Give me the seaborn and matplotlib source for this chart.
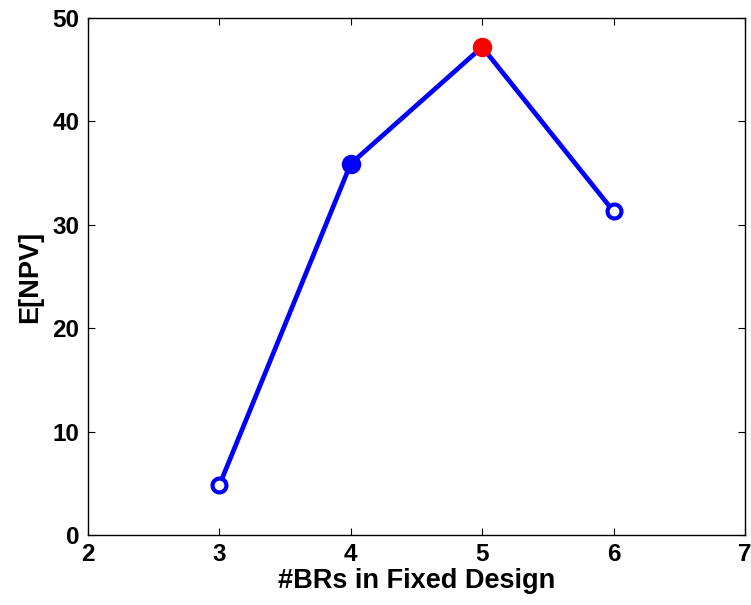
import numpy as np
import pandas as pd
import matplotlib
matplotlib.use('Agg')
import matplotlib.pyplot as plt
import seaborn as sns

# data
n_brs = [3, 4, 5, 6]
e_npv = [4.8, 35.9, 47.2, 31.3]
marker_kind = ['open', 'filled', 'best', 'open']

df = pd.DataFrame({'n_brs': n_brs, 'e_npv': e_npv, 'kind': marker_kind})

sns.set_style('white')
plt.rcParams['font.family'] = ['Liberation Sans', 'DejaVu Sans']
plt.rcParams['font.weight'] = 'bold'
plt.rcParams['text.color'] = 'black'
plt.rcParams['axes.labelcolor'] = 'black'
plt.rcParams['xtick.color'] = 'black'
plt.rcParams['ytick.color'] = 'black'

fig = plt.figure(figsize=(7.51, 6.05), dpi=100)
ax = fig.add_axes([0.117, 0.1157, 0.875, 0.8545])

sns.lineplot(data=df, x='n_brs', y='e_npv', color='blue', linewidth=3.4, ax=ax)

# marker styles per point
opn = df[df['kind'] == 'open']
ax.plot(opn['n_brs'], opn['e_npv'], 'o', ms=10, mfc='white', mec='blue', mew=3, zorder=3)
fil = df[df['kind'] == 'filled']
ax.plot(fil['n_brs'], fil['e_npv'], 'o', ms=13, mfc='blue', mec='blue', zorder=3)
best = df[df['kind'] == 'best']
ax.plot(best['n_brs'], best['e_npv'], 'o', ms=13, mfc='red', mec='red', zorder=3)

ax.set_xlim(2, 7)
ax.set_ylim(0, 50)
ax.set_xticks(range(2, 8))
ax.set_yticks(range(0, 51, 10))
ax.set_xlabel('#BRs in Fixed Design', fontsize=19.5, fontweight='bold', labelpad=1)
ax.set_ylabel('E[NPV]', fontsize=19.5, fontweight='bold', labelpad=7)
ax.tick_params(direction='in', length=5, width=0.8, labelsize=17.5,
               top=True, right=True, bottom=True, left=True, pad=6)
for s in ax.spines.values():
    s.set_color('black')
    s.set_linewidth(1.0)

fig.savefig('out.png', dpi=100)
